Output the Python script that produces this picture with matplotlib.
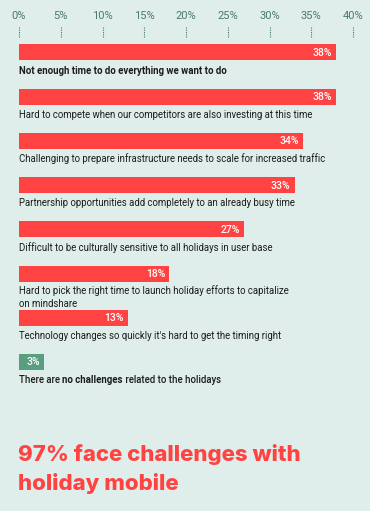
import numpy as np
import matplotlib.pyplot as plt

# data
labels = [
    "Not enough time to do everything we want to do",
    "Hard to compete when our competitors are also investing at this time",
    "Challenging to prepare infrastructure needs to scale for increased traffic",
    "Partnership opportunities add completely to an already busy time",
    "Difficult to be culturally sensitive to all holidays in user base",
    "Hard to pick the right time to launch holiday efforts to capitalize\non mindshare",
    "Technology changes so quickly it's hard to get the timing right",
    "There are no challenges related to the holidays",
]
values = [38, 38, 34, 33, 27, 18, 13, 3]
ticks = [0, 5, 10, 15, 20, 25, 30, 35, 40]
title = "97% face challenges with\nholiday mobile"

bg = "#dfeeea"
red = "#ff4343"
green = "#5a9e80"
dark = "#1c1c1c"
tickcol = "#4a7a68"

plt.rcParams['font.family'] = ['Roboto', 'DejaVu Sans']
fs = 6.9

W, H = 370, 511
fig = plt.figure(figsize=(W / 100, H / 100), dpi=100, facecolor=bg)

# axes: x 0 at px 19, 40 at px 353 ; y rows 44.2 px apart, first centre at px 52.5
x0, x40 = 19, 353
step, first = 44.2, 52.5
ax = fig.add_axes([0, 0, 1, 1])
ax.set_facecolor(bg)
s = (x40 - x0) / 40
ax.set_xlim(-x0 / s, (W - x0) / s)
ax.set_ylim((H - first) / step, -first / step)
ax.axis('off')

px = lambda p: (p - first) / step  # pixel row -> data y

y = np.arange(len(values))
colors = [red] * (len(values) - 1) + [green]
ax.barh(y, values, height=16 / step, color=colors, align='center')

for i, v in enumerate(values):
    ax.text(v - 0.5, i + 0.01, f"{v}%", color="white", fontsize=7.5,
            fontweight='medium', ha='right', va='center')

for i, lab in enumerate(labels):
    yy = i + 18 / step
    if i == 0:
        ax.text(0, yy, lab, fontsize=fs, fontweight='bold', color=dark,
                ha='left', va='center')
    elif i == len(labels) - 1:
        parts = [("There are ", 'medium'), ("no challenges", 'bold'),
                 (" related to the holidays", 'medium')]
        r = fig.canvas.get_renderer()
        xpix = x0
        for txt, w in parts:
            t = fig.text(xpix / W, 1 - (first + i * step + 18) / H, txt,
                         fontsize=fs, fontweight=w, color=dark,
                         ha='left', va='center')
            xpix += t.get_window_extent(r).width
    elif "\n" in lab:
        ax.text(0, i + 12 / step, lab, fontsize=fs, color=dark,
                ha='left', va='top', linespacing=1.3)
    else:
        ax.text(0, yy, lab, fontsize=fs, color=dark, ha='left', va='center')

# top tick labels and dotted tick marks
for t in ticks:
    ax.text(t, px(16), f"{t}%", fontsize=8, color=tickcol,
            ha='center', va='center')
    ax.vlines(t, px(27), px(38), colors=tickcol, linestyles=(0, (1, 1)),
              linewidth=0.8)

fig.text(18 / W, 1 - 444 / H, title, fontsize=16, fontweight='heavy',
         color=red, ha='left', va='top', linespacing=1.45,
         family=['Inter', 'DejaVu Sans'])

fig.savefig("out.png", dpi=100, facecolor=bg)
